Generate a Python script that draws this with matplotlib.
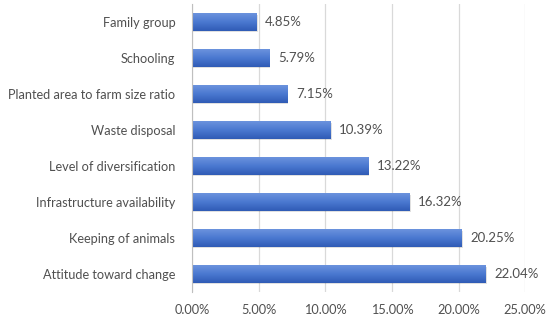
import matplotlib
matplotlib.use("Agg")
import matplotlib.pyplot as plt
from matplotlib.colors import LinearSegmentedColormap
import numpy as np

# Categories listed bottom to top
categories = ["Attitude toward change", "Keeping of animals", "Infrastructure availability",
              "Level of diversification", "Waste disposal", "Planted area to farm size ratio",
              "Schooling", "Family group"]
values = [22.04, 20.25, 16.32, 13.22, 10.39, 7.15, 5.79, 4.85]
xticks = [0, 5, 10, 15, 20, 25]

plt.rcParams['font.family'] = ['Lato', 'DejaVu Sans']
TXT = '#505050'
FS = 9.2

fig = plt.figure(figsize=(5.5, 3.2), dpi=100)
ax = fig.add_axes([0.349, 0.0875, 0.606, 0.9])

bar_h = 0.48
# gradient fill: lighter at top, darker at bottom
cmap = LinearSegmentedColormap.from_list('g', ['#2f5bb5', '#4a78d0', '#6b93dd'])
grad = np.linspace(0, 1, 64).reshape(-1, 1)
for i, v in enumerate(values):
    # soft shadow
    ax.barh(i - 0.04, v + 0.08, height=bar_h, color='#000000', alpha=0.12, zorder=2)
    ax.imshow(grad, extent=(0, v, i - bar_h / 2, i + bar_h / 2), cmap=cmap,
              aspect='auto', origin='lower', zorder=3)
    ax.text(v + 0.65, i, f"{v:.2f}%", va='center', ha='left', fontsize=FS + 0.3, color=TXT)

ax.set_xlim(0, 25)
ax.set_ylim(-0.5, len(categories) - 0.5)
ax.set_yticks(range(len(categories)))
ax.set_yticklabels(categories, fontsize=FS, color=TXT)
ax.set_xticks(xticks)
ax.set_xticklabels([f"{t:.2f}%" for t in xticks], fontsize=FS, color=TXT)
ax.tick_params(axis='y', length=0, pad=12)
ax.tick_params(axis='x', length=0, pad=9)
ax.grid(axis='x', color='#d9d9d9', linewidth=0.9, zorder=0)
ax.set_axisbelow(True)
for s in ['top', 'right', 'bottom']:
    ax.spines[s].set_visible(False)
ax.spines['left'].set_color('#bfbfbf')
ax.spines['left'].set_zorder(4)

fig.savefig('out.png', dpi=100)
